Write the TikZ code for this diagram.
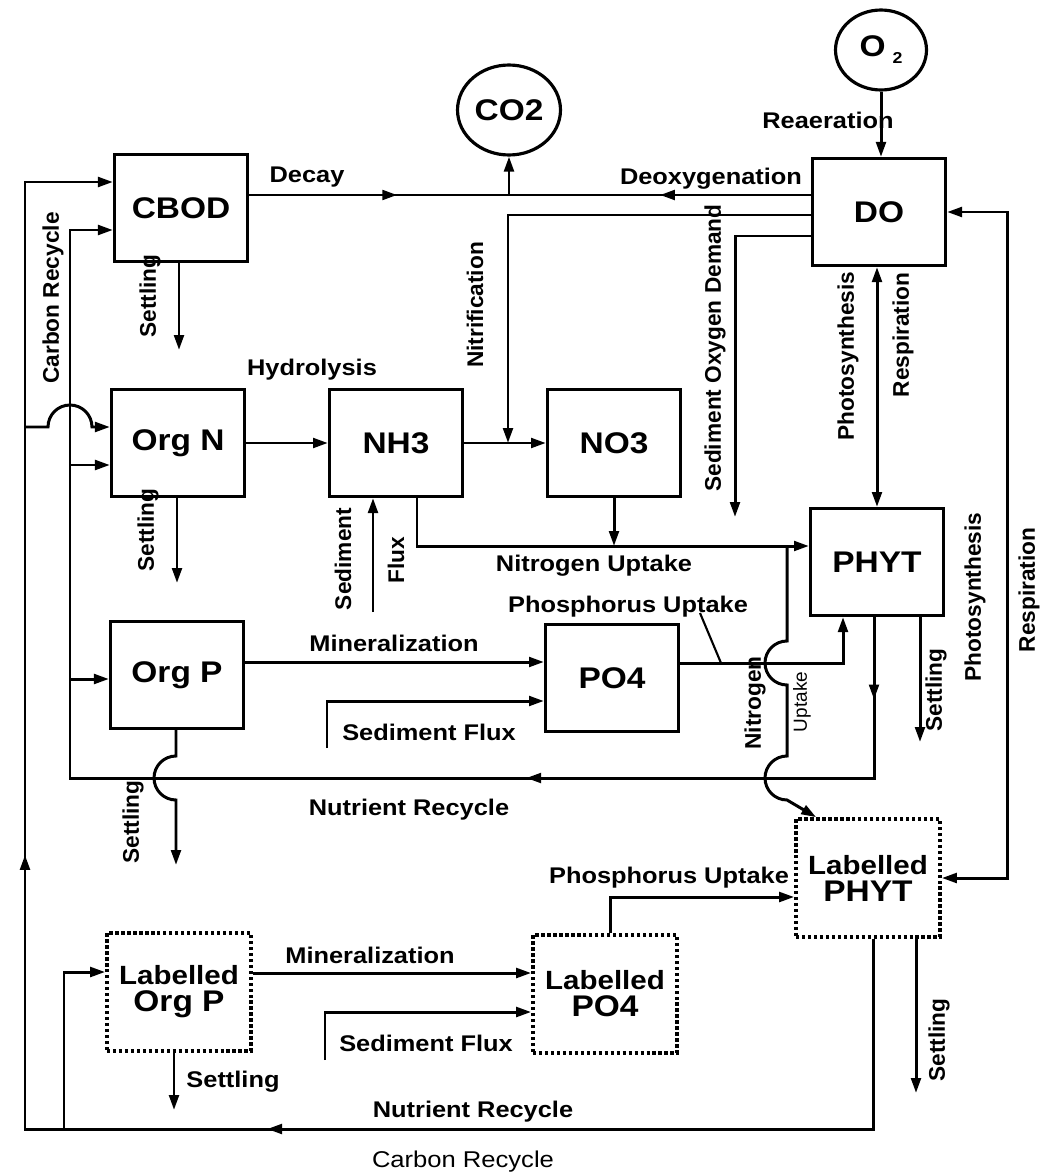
\documentclass[tikz,border=0pt]{standalone}
\usepackage{fontspec}
\setmainfont{Liberation Sans}
\newfontfamily\hsans[FakeStretch=1.12]{Liberation Sans}
\usetikzlibrary{arrows.meta, shapes.geometric, decorations.markings}

\begin{document}
\begin{tikzpicture}[x=0.02cm, y=-0.02cm,
  compbox/.style={draw, line width=1.8pt, minimum width=2.66cm, minimum height=2.14cm,
                  inner sep=0pt, font=\hsans\bfseries\fontsize{17}{17}\selectfont},
  labbox/.style={compbox, line width=2.1pt, dash pattern=on 1.9pt off 1.5pt,
                 minimum width=2.88cm, minimum height=2.36cm, align=center,
                 font=\hsans\bfseries\fontsize{17}{15.3}\selectfont},
  gas/.style={ellipse, draw, line width=1.8pt, inner sep=0pt,
              font=\hsans\bfseries\fontsize{17}{17}\selectfont},
  lbl/.style={inner sep=0pt, font=\hsans\bfseries\fontsize{12.9}{15}\selectfont},
  vlbl/.style={inner sep=0pt, rotate=90, font=\bfseries\fontsize{12.9}{15}\selectfont},
  conn/.style={line width=1.7pt},
  flow/.style={conn, -{Triangle[length=8.5pt,width=5.5pt]}},
  twoway/.style={conn, {Triangle[length=8.5pt,width=5.5pt]}-{Triangle[length=8.5pt,width=5.5pt]}},
  midarrow/.style={postaction={decorate, decoration={markings,
      mark=at position #1 with {\arrow{Triangle[length=8.5pt,width=5.5pt]}}}}},
]
\useasboundingbox (0,0) rectangle (1061,1173);

% State variables
\node[compbox] (CBOD) at (181,208) {CBOD};
\node[compbox] (DO) at (879,212) {DO};
\node[compbox] (OrgN) at (178,443) {Org N};
\node[compbox] (NH3) at (396,443) {NH3};
\node[compbox] (NO3) at (614,443) {NO3};
\node[compbox] (PHYT) at (877,562) {PHYT};
\node[compbox] (OrgP) at (177,675) {Org P};
\node[compbox] (PO4) at (612,678) {PO4};
\node[labbox] (LPHYT) at (868,878) {{\fontsize{15}{15}\selectfont Labelled}\\PHYT};
\node[labbox] (LPO4) at (605,994) {{\fontsize{15}{15}\selectfont Labelled}\\PO4};
\node[labbox] (LOrgP) at (179,992) {{\fontsize{15}{15}\selectfont Labelled}\\Org P};
\node[gas, minimum width=2.06cm, minimum height=1.8cm] (CO2) at (509,110) {CO2};
\node[gas, minimum width=1.82cm, minimum height=1.6cm] (O2) at (881,50)
  {O\hspace{4pt}\raisebox{-4pt}{\fontsize{9}{9}\selectfont 2}};

% Oxygen and carbon
\coordinate (jco) at (509,195);
\draw[conn, midarrow=0.57] (CBOD.east |- jco) -- (jco);
\draw[conn, midarrow=0.5] (DO.west |- jco) -- (jco);
\draw[flow] (jco) -- (CO2.south);
\draw[flow] (O2.south) -- (O2.south |- DO.north);
\coordinate (nit) at (508,215);
\draw[flow] (DO.west |- nit) -- (nit) -- (nit |- NH3.east);
\coordinate (sod0) at (735,236);
\coordinate (sod) at (735,517);
\draw[flow] (DO.west |- sod0) -- (sod0) -- (sod);
\draw[twoway] (DO.south -| PHYT.north) -- (PHYT.north);
\coordinate (rsp) at (1007,500);
\draw[twoway] (LPHYT.east) -| (rsp) |- (DO.east);

% Carbon recycle
\coordinate (cbot) at (873,1129);
\coordinate (cleft) at (25,1129);
\coordinate (ctop) at (25,182);
\draw[flow, midarrow=0.384, midarrow=0.633] (cbot |- LPHYT.south) -- (cbot) -- (cleft)
  -- (ctop) -- (ctop -| CBOD.west);
\coordinate (cn) at (25,427);
\draw[flow] (cn) -- ++(23,0) arc[start angle=180, end angle=0, radius=0.44cm]
  -- (OrgN.west |- cn);
\coordinate (cb2) at (64,1129);
\coordinate (lop) at (64,972);
\draw[flow] (cb2) -- (lop) -- (lop -| LOrgP.west);

% Nutrient recycle
\coordinate (nrp) at (874,778);
\coordinate (nrl) at (70,778);
\coordinate (nrt) at (70,230);
\draw[flow, midarrow=0.053, midarrow=0.327] (nrp |- PHYT.south) -- (nrp) -- (nrl)
  -- (nrt) -- (nrt -| CBOD.west);
\coordinate (nrn) at (70,465);
\draw[flow] (nrn) -- (nrn -| OrgN.west);
\coordinate (nro) at (70,679);
\draw[flow] (nro) -- (nro -| OrgP.west);

% Settling
\coordinate (s1) at (179,350);
\draw[flow] (s1 |- CBOD.south) -- (s1);
\coordinate (s2) at (177,583);
\draw[flow] (s2 |- OrgN.south) -- (s2);
\coordinate (s3) at (176,865);
\coordinate (s3j) at (176,756);
\draw[flow] (s3 |- OrgP.south) -- (s3j) arc[start angle=90, end angle=270, radius=0.44cm]
  -- (s3);
\coordinate (s4) at (920,742);
\draw[flow] (s4 |- PHYT.south) -- (s4);
\coordinate (s5) at (174,1110);
\draw[flow] (s5 |- LOrgP.south) -- (s5);
\coordinate (s6) at (916,1093);
\draw[flow] (s6 |- LPHYT.south) -- (s6);

% Nitrogen
\draw[flow] (OrgN) -- (NH3);
\draw[flow] (NH3) -- (NO3);
\coordinate (sfn) at (373,612);
\draw[flow] (sfn) -- (sfn |- NH3.south);
\coordinate (nu) at (417,546);
\draw[flow] (nu |- NH3.south) -- (nu) -- (nu -| PHYT.west);
\draw[flow] (NO3.south) -- (NO3.south |- nu);
\coordinate (nj) at (787,546);
\coordinate (nj1) at (787,641);
\coordinate (nj2) at (787,756);
\draw[flow] (nj) -- (nj1) arc[start angle=90, end angle=270, radius=0.44cm]
  -- (nj2) arc[start angle=90, end angle=270, radius=0.44cm]
  -- ([xshift=0.44cm]LPHYT.north west);

% Phosphorus
\coordinate (pp) at (843,663);
\draw[flow] (PO4.east |- pp) -- (pp) -- (pp |- PHYT.south);
\coordinate (pl1) at (700,613);
\coordinate (pl2) at (721,663);
\draw[conn, line width=1.2pt] (pl1) -- (pl2);
\coordinate (mi) at (300,662);
\draw[flow] (OrgP.east |- mi) -- (PO4.west |- mi);
\coordinate (sfp) at (327,748);
\coordinate (sfp2) at (327,701);
\draw[flow] (sfp) -- (sfp2) -- (sfp2 -| PO4.west);

% Labelled phosphorus
\coordinate (lmi) at (300,973);
\draw[flow] (LOrgP.east |- lmi) -- (LPO4.west |- lmi);
\coordinate (lsf) at (325,1060);
\coordinate (lsf2) at (325,1012);
\draw[flow] (lsf) -- (lsf2) -- (lsf2 -| LPO4.west);
\coordinate (lpu) at (610,897);
\draw[flow] (lpu |- LPO4.north) -- (lpu) -- (lpu -| LPHYT.west);

% Labels
\node[lbl] (decayL) at (307,177) {Decay};
\node[lbl] (reaerL) at (828,120) {Reaeration};
\node[lbl] (deoxL) at (711,179) {Deoxygenation};
\node[vlbl] (crL) at (53,298) {Carbon Recycle};
\node[vlbl] (setL1) at (150,296) {Settling};
\node[lbl] (hydL) at (312,370) {Hydrolysis};
\node[vlbl] (nitL) at (475,305) {Nitrification};
\node[vlbl] (sodL) at (715,348) {Sediment Oxygen Demand};
\node[vlbl] (phoL1) at (848,356) {Photosynthesis};
\node[vlbl] (resL1) at (903,335) {Respiration};
\node[vlbl] (setL2) at (148,530) {Settling};
\node[vlbl] (sedL) at (343,559) {Sediment};
\node[vlbl] (fluxL) at (396,560) {Flux};
\node[lbl] (nuL) at (594,566) {Nitrogen Uptake};
\node[lbl] (puL) at (628,607) {Phosphorus Uptake};
\node[lbl] (minL) at (394,643) {Mineralization};
\node[lbl] (sfL) at (429,732) {Sediment Flux};
\node[vlbl] (setL3) at (936,690) {Settling};
\node[vlbl] (phoL2) at (975,597) {Photosynthesis};
\node[vlbl] (resL2) at (1029,590) {Respiration};
\node[vlbl] (nitroL) at (755,703) {Nitrogen};
\node[vlbl, font=\fontsize{10.8}{12}\selectfont] (uptL) at (802,702) {Uptake};
\node[lbl] (nrL1) at (409,810) {Nutrient Recycle};
\node[vlbl] (setL4) at (133,822) {Settling};
\node[lbl] (puL2) at (669,878) {Phosphorus Uptake};
\node[lbl] (minL2) at (370,955) {Mineralization};
\node[lbl] (sfL2) at (426,1043) {Sediment Flux};
\node[lbl] (setL5) at (233,1082) {Settling};
\node[vlbl] (setL6) at (939,1040) {Settling};
\node[lbl] (nrL2) at (473,1112) {Nutrient Recycle};
\node[lbl, font=\hsans\fontsize{13}{15}\selectfont] (crL2) at (463,1162) {Carbon Recycle};
\end{tikzpicture}
\end{document}
